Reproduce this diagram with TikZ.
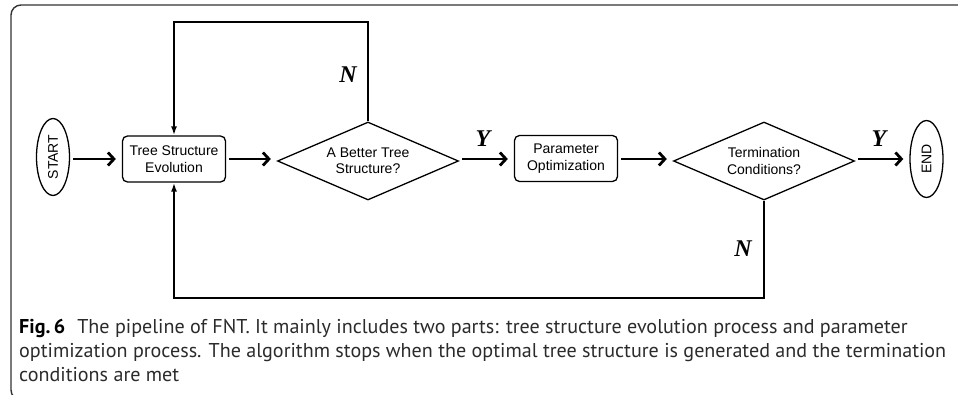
\documentclass[tikz,border=0pt]{standalone}
\usepackage{fontspec}
\setmainfont{Liberation Sans}
\newfontfamily\capfont{PT Sans}
\newfontfamily\ynfont{Liberation Serif}
\usetikzlibrary{arrows.meta,shapes.geometric}

\definecolor{framegray}{HTML}{333333}
\definecolor{captext}{HTML}{2B2B2B}

\newcommand\capsize{\capfont\fontsize{20}{24}\selectfont}
\newsavebox\caplinebox
\newlength\caplinewd
% horizontal condensing factor so the second caption line spans 927pt
\AtBeginDocument{%
  \sbox\caplinebox{\capsize optimization process. The algorithm stops when the optimal tree structure is generated and the termination}%
  \setlength\caplinewd{\wd\caplinebox}%
  \pgfmathsetmacro\capxs{927/\caplinewd}%
  \global\let\capxs\capxs}

\tikzset{
  procbox/.style={draw, line width=1.3pt, rounded corners=5pt, align=center,
    minimum width=103pt, minimum height=46pt, inner sep=0pt,
    font=\fontsize{14}{16.5}\selectfont},
  decision/.style={draw, diamond, aspect=2.32, line width=1.3pt, align=center,
    minimum width=181pt, minimum height=78pt, inner sep=0pt,
    font=\fontsize{14}{16.5}\selectfont},
  terminal/.style={draw, ellipse, line width=1.3pt, minimum width=33pt,
    minimum height=77pt, inner sep=0pt, font=\fontsize{14}{16}\selectfont},
  mainflow/.style={line width=2.8pt, shorten <=3pt, shorten >=6pt,
    -{Straight Barb[length=6pt,width=13pt]}},
  loopback/.style={line width=2pt, -{Latex[length=9pt,width=6pt]}},
  branch/.style={font=\ynfont\bfseries\itshape\fontsize{24}{24}\selectfont}
}

\begin{document}
\begin{tikzpicture}[x=1pt,y=-1pt]
\useasboundingbox (0,0) rectangle (958,395);
\begin{scope}
  \clip (0,0) rectangle (958,395);
  \draw[framegray, line width=1.4pt, rounded corners=10pt] (11,5) rectangle (1000,400);
\end{scope}

% flowchart nodes
\node[terminal] (start) at (53,157) {\rotatebox{90}{START}};
\node[procbox] (tse) at (174,159) {Tree Structure\\Evolution};
\node[decision] (d1) at (368,161) {A Better Tree\\Structure?};
\node[procbox] (po) at (566,158.5) {Parameter\\Optimization};
\node[decision] (d2) at (764,161) {Termination\\Conditions?};
\node[terminal] (end) at (926.5,159) {\rotatebox{90}{END}};

% main flow
\draw[mainflow] (start.east |- 0,159) -- (tse.west |- 0,159);
\draw[mainflow] (tse.east |- 0,159) -- (d1.west |- 0,159);
\draw[mainflow] (d1.east |- 0,159) -- (po.west |- 0,159);
\draw[mainflow] (po.east |- 0,159) -- (d2.west |- 0,159);
\draw[mainflow] (d2.east |- 0,159) -- (end.west |- 0,159);

% feedback loops
\coordinate (toprail) at (0,22);
\coordinate (botrail) at (0,298);
\draw[loopback] (d1.north) -- (d1.north |- toprail) -| (tse.north);
\draw[loopback] (d2.south) -- (d2.south |- botrail) -| (tse.south);

% branch labels
\node[branch] (n1) at (348,75) {N};
\node[branch] (n2) at (743,249) {N};
\node[branch] (y1) at (483,139) {Y};
\node[branch] (y2) at (879,139) {Y};

% caption
\node[anchor=base west, align=left, inner sep=0pt, text=captext,
      font=\capsize] (cap) at (19,381)
  {\scalebox{\capxs}[1]{{\bfseries\color{black}Fig.\,6}\hspace{0.6em}The pipeline of FNT. It mainly includes two parts: tree structure evolution process and parameter}\\
   \scalebox{\capxs}[1]{optimization process. The algorithm stops when the optimal tree structure is generated and the termination}\\
   \scalebox{\capxs}[1]{conditions are met}};
\end{tikzpicture}
\end{document}
